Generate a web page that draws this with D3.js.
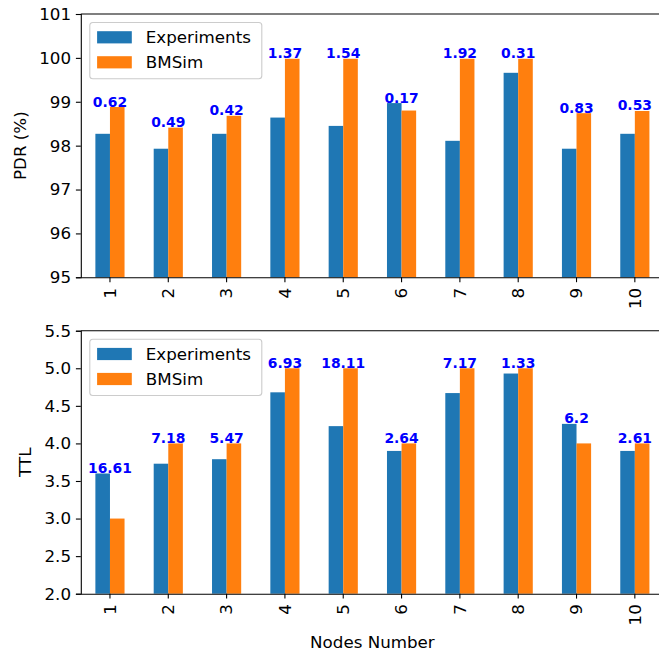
<!DOCTYPE html>
<html>
<head>
<meta charset="utf-8">
<script src="https://cdn.jsdelivr.net/npm/d3@7"></script>
<style>
  body { margin: 0; background: #fff; }
  svg { display: block; }
  text { font-family: "DejaVu Sans", sans-serif; }
</style>
</head>
<body>
<script>
const nodes = ['1', '2', '3', '4', '5', '6', '7', '8', '9', '10']
const series = ['Experiments', 'BMSim']

const pdrExp = [98.27, 97.93, 98.27, 98.64, 98.45, 98.97, 98.11, 99.66, 97.93, 98.27]
const pdrSim = [98.88, 98.41, 98.68, 99.98, 99.98, 98.80, 99.98, 99.98, 98.74, 98.79]
const pdrDiff = ['0.62', '0.49', '0.42', '1.37', '1.54', '0.17', '1.92', '0.31', '0.83', '0.53']
const pdrTicks = [95, 96, 97, 98, 99, 100, 101]

const ttlExp = [3.60, 3.73, 3.79, 4.68, 4.23, 3.90, 4.67, 4.93, 4.26, 3.90]
const ttlSim = [3, 4, 4, 5, 5, 4, 5, 5, 4, 4]
const ttlDiff = ['16.61', '7.18', '5.47', '6.93', '18.11', '2.64', '7.17', '1.33', '6.2', '2.61']
const ttlTicks = [2.0, 2.5, 3.0, 3.5, 4.0, 4.5, 5.0, 5.5]

const colors = ['#1f77b4', '#ff7f0e']
const W = 659, H = 654
const fs = 16.7

const svg = d3.select('body').append('svg')
    .attr('width', W)
    .attr('height', H)

// right edge sits past the picture, like the cropped original
const x = d3.scaleBand().domain(nodes).range([80.8, 664]).padding(0)
const xInner = d3.scaleBand().domain(series)
    .range([x.bandwidth() * 0.25, x.bandwidth() * 0.75])

function drawPanel(top, bottom, domain, ticks, fmt, expVals, simVals, diffs, ylabel, ylabelX) {
    const y = d3.scaleLinear().domain(domain).range([bottom, top])
    const g = svg.append('g')

    const rows = nodes.map((n, i) => ({ node: n, vals: [expVals[i], simVals[i]], diff: diffs[i] }))

    const grp = g.selectAll('.grp')
        .data(rows)
        .enter()
        .append('g')
        .attr('transform', d => 'translate(' + x(d.node) + ',0)')

    grp.selectAll('rect')
        .data(d => d.vals.map((v, k) => ({ s: series[k], v: v, k: k })))
        .enter()
        .append('rect')
        .attr('x', d => xInner(d.s))
        .attr('width', xInner.bandwidth())
        .attr('y', d => y(d.v))
        .attr('height', d => bottom - y(d.v))
        .attr('fill', d => colors[d.k])

    // percentage labels over the taller bar
    grp.append('text')
        .attr('x', x.bandwidth() / 2)
        .attr('y', d => y(Math.max(d.vals[0], d.vals[1])) - 0.5)
        .attr('text-anchor', 'middle')
        .attr('font-size', 13.9)
        .attr('font-weight', 'bold')
        .attr('fill', '#0000ff')
        .text(d => d.diff)

    // y axis
    const yAxis = g.append('g')
        .attr('transform', 'translate(80.8,0)')
        .call(d3.axisLeft(y).tickValues(ticks).tickFormat(fmt).tickSize(4.9).tickPadding(4.9))
    yAxis.select('.domain').attr('stroke', '#000').attr('stroke-width', 1.1)
    yAxis.selectAll('.tick line').attr('stroke', '#000').attr('stroke-width', 1.1)
    yAxis.selectAll('.tick text').attr('font-size', fs).attr('fill', '#000')
        .attr('font-family', '"DejaVu Sans", sans-serif')

    // x axis
    const xAxis = g.append('g')
        .attr('transform', 'translate(0,' + bottom + ')')
        .call(d3.axisBottom(x).tickSize(4.9).tickSizeOuter(0))
    xAxis.select('.domain').attr('stroke', '#000').attr('stroke-width', 1.1)
    xAxis.selectAll('.tick line').attr('stroke', '#000').attr('stroke-width', 1.1)
    xAxis.selectAll('.tick text')
        .attr('font-size', fs)
        .attr('fill', '#000')
        .attr('font-family', '"DejaVu Sans", sans-serif')
        .attr('transform', 'rotate(-90)')
        .attr('x', -10.5)
        .attr('y', 0)
        .attr('dy', '0.35em')
        .attr('text-anchor', 'end')

    // top spine
    g.append('line')
        .attr('x1', 80.8).attr('x2', 664)
        .attr('y1', top).attr('y2', top)
        .attr('stroke', '#000').attr('stroke-width', 1.1)

    g.append('text')
        .attr('transform', 'translate(' + ylabelX + ',' + (top + bottom) / 2 + ') rotate(-90)')
        .attr('text-anchor', 'middle')
        .attr('font-size', fs)
        .attr('fill', '#000')
        .text(ylabel)

    // legend
    const lg = g.append('g').attr('transform', 'translate(89.8,' + (top + 8.5) + ')')
    lg.append('rect')
        .attr('width', 172).attr('height', 56.3)
        .attr('rx', 3).attr('ry', 3)
        .attr('fill', '#fff').attr('fill-opacity', 0.8)
        .attr('stroke', '#cccccc').attr('stroke-width', 1.1)
    series.forEach((s, k) => {
        lg.append('rect')
            .attr('x', 7.3).attr('y', 8.7 + k * 25)
            .attr('width', 34.7).attr('height', 12.2)
            .attr('fill', colors[k])
        lg.append('text')
            .attr('x', 56).attr('y', 20.8 + k * 25)
            .attr('font-size', fs)
            .attr('fill', '#000')
            .text(s)
    })
}

drawPanel(14, 277.3, [95, 101], pdrTicks, d3.format('d'), pdrExp, pdrSim, pdrDiff, 'PDR (%)', 25.5)
drawPanel(330.7, 593.7, [2, 5.5], ttlTicks, d3.format('.1f'), ttlExp, ttlSim, ttlDiff, 'TTL', 31)

svg.append('text')
    .attr('x', 372.4)
    .attr('y', 647.5)
    .attr('text-anchor', 'middle')
    .attr('font-size', fs)
    .attr('fill', '#000')
    .text('Nodes Number')
</script>
</body>
</html>
